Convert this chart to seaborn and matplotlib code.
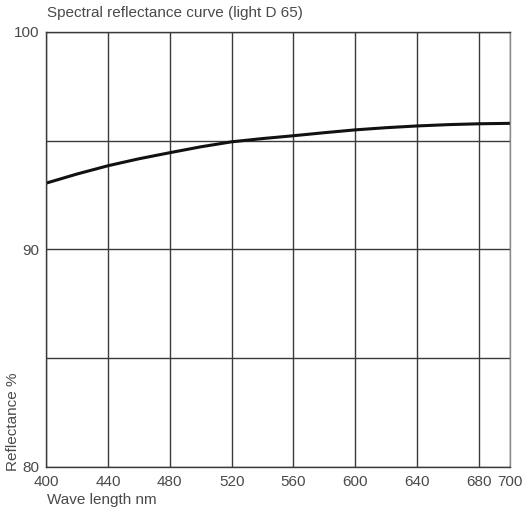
#!/usr/bin/env python3
"""
Spectral reflectance curve (light D 65), redrawn with seaborn.
"""

import pandas as pd
import matplotlib.pyplot as plt
import seaborn as sns

# Values
wavelength = [400, 420, 440, 460, 480, 500, 520, 540, 560, 580, 600, 620, 640, 660, 680, 700]
reflectance = [93.05, 93.47, 93.85, 94.17, 94.45, 94.72, 94.95, 95.1, 95.23, 95.37, 95.5, 95.6, 95.68, 95.74, 95.78, 95.8]

x_ticks = [400, 440, 480, 520, 560, 600, 640, 680, 700]
x_labels = ["400", "440", "480", "520", "560", "600", "640", "680", "700"]
y_major = [80, 90, 100]
y_minor = [85, 95]

sns.set_style("white")
plt.rcParams["font.family"] = ["Liberation Sans", "DejaVu Sans"]

text_col = "#4a4a4a"
line_col = "#3a3a3a"

df = pd.DataFrame({"wave": wavelength, "refl": reflectance})

fig = plt.figure(figsize=(5.3, 5.16), dpi=100)
ax = fig.add_axes([0.087, 0.095, 0.875, 0.843])

sns.lineplot(data=df, x="wave", y="refl", ax=ax, color="#111111", linewidth=2.2)

ax.set_xlim(400, 700)
ax.set_ylim(80, 100)

ax.set_xticks(x_ticks)
ax.set_xticklabels(x_labels)
ax.set_yticks(y_major)
ax.set_yticks(y_minor, minor=True)

# grid: every x tick, every 5 %
for xv in x_ticks:
    ax.axvline(xv, color=line_col, linewidth=1.0, zorder=1)
for yv in y_major + y_minor:
    ax.axhline(yv, color=line_col, linewidth=1.0, zorder=1)

for side, sp in ax.spines.items():
    sp.set_color(line_col)
    sp.set_linewidth(1.0)
ax.spines["right"].set_color("#8a8a8a")

ax.tick_params(axis="both", which="major", labelsize=11, colors=text_col,
               length=3, width=1.0, pad=2)
ax.tick_params(axis="y", which="minor", length=0)
ax.tick_params(axis="x", length=0, pad=6)

ax.set_xlabel("")
ax.set_ylabel("")

fig.text(0.088, 0.962, "Spectral reflectance curve (light D 65)",
         fontsize=11, color=text_col, ha="left", va="bottom")
fig.text(0.088, 0.018, "Wave length nm",
         fontsize=11, color=text_col, ha="left", va="bottom")
fig.text(0.012, 0.088, "Reflectance %",
         fontsize=11, color=text_col, ha="left", va="bottom", rotation=90)

fig.savefig("out.png", dpi=100)
plt.close(fig)
